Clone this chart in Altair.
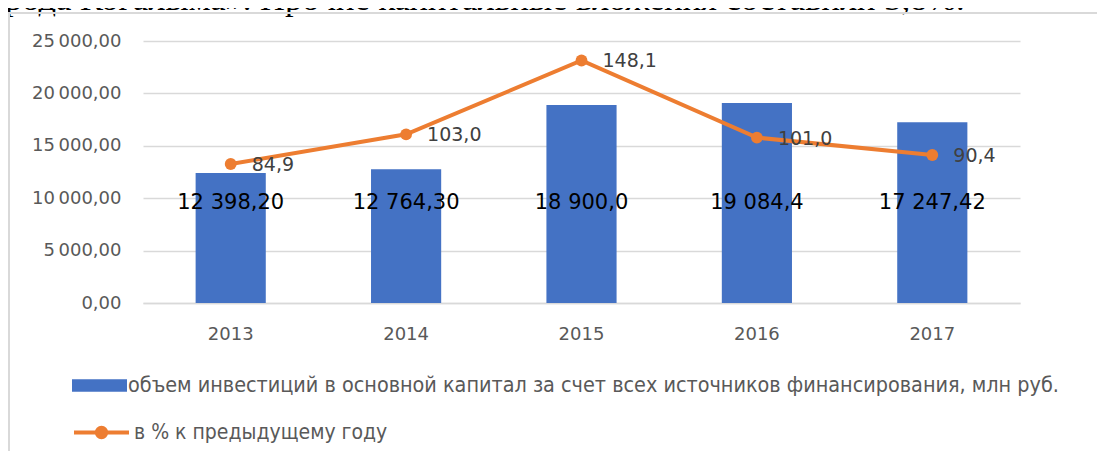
import altair as alt
import pandas as pd

years = ["2013", "2014", "2015", "2016", "2017"]
investment = [12398.20, 12764.30, 18900.0, 19084.4, 17247.42]
investment_labels = ["12 398,20", "12 764,30", "18 900,0", "19 084,4", "17 247,42"]
pct_prev = [84.9, 103.0, 148.1, 101.0, 90.4]
bar_series_name = "объем инвестиций  в основной капитал за счет всех источников финансирования, млн руб."
line_series_name = "в % к предыдущему году"
left_ticks = [0, 5000, 10000, 15000, 20000, 25000]
right_ticks = [0, 20, 40, 60, 80, 100, 120, 140, 160]
header_text = "рода Когалыма». Прочие капитальные вложения составили 3,8%."

df = pd.DataFrame({
    "year": years,
    "investment": investment,
    "inv_label": investment_labels,
    "pct": pct_prev,
    "bar_series": [bar_series_name] * len(years),
    "line_series": [line_series_name] * len(years),
})

AX_FONT = "DejaVu Sans"
GRAY = "#595959"
GRID = "#d9d9d9"
BLUE = "#4472c4"
ORANGE = "#ed7d31"

x_enc = alt.X(
    "year:N", sort=years,
    scale=alt.Scale(paddingInner=0.6, paddingOuter=0.3),
    axis=alt.Axis(title=None, labelAngle=0, labelFont=AX_FONT, labelFontSize=18,
                  labelColor=GRAY, ticks=False, tickSize=0, labelPadding=22,
                  domainColor=GRID, domainWidth=1.5, grid=False),
)

base = alt.Chart(df).encode(x=x_enc)

bar_symbol = "M-1,-0.23H1V0.23H-1Z"
line_symbol = ("M-1,0H1"
               "M-0.17,0A0.17,0.17,0,1,0,0.17,0A0.17,0.17,0,1,0,-0.17,0Z"
               "M-0.1,0A0.1,0.1,0,1,0,0.1,0A0.1,0.1,0,1,0,-0.1,0Z"
               "M-0.03,0A0.03,0.03,0,1,0,0.03,0A0.03,0.03,0,1,0,-0.03,0Z")

LEG_FONT = "DejaVu Sans Condensed"

bars = base.mark_bar().encode(
    y=alt.Y("investment:Q",
            scale=alt.Scale(domain=[0, 25000], nice=False),
            axis=alt.Axis(title=None, values=left_ticks, format=",.2f",
                          labelFont=AX_FONT, labelFontSize=18, labelColor=GRAY,
                          ticks=False, tickSize=0, domain=False, labelPadding=22,
                          grid=True, gridColor=GRID, gridWidth=1.5)),
    fill=alt.Fill("bar_series:N", scale=alt.Scale(range=[BLUE]),
                  legend=alt.Legend(orient="none", legendX=-71, legendY=317, title=None,
                                    symbolType=bar_symbol, symbolSize=3025,
                                    symbolStrokeWidth=0, labelFont=LEG_FONT,
                                    labelFontSize=21.4, labelColor=GRAY, labelLimit=0,
                                    labelOffset=1, padding=0)),
)

bar_text = base.mark_text(font=AX_FONT, fontSize=21, color="#000000", baseline="middle").encode(
    y=alt.YDatum(9500, type="quantitative"),
    text="inv_label:N",
)

left = alt.layer(bars, bar_text)

line = base.mark_line(strokeWidth=4).encode(
    y=alt.Y("pct:Q",
            scale=alt.Scale(domain=[0, 160], nice=False),
            axis=alt.Axis(title=None, orient="right", values=right_ticks, format=".1f",
                          labelFont=AX_FONT, labelFontSize=18, labelColor=GRAY,
                          ticks=False, tickSize=0, domain=False, labelPadding=19,
                          grid=False)),
    stroke=alt.Stroke("line_series:N", scale=alt.Scale(range=[ORANGE]),
                      legend=alt.Legend(orient="none", legendX=-71, legendY=362, title=None,
                                        symbolType=line_symbol, symbolSize=3025,
                                        symbolStrokeWidth=4, symbolFillColor=ORANGE,
                                        labelFont=LEG_FONT,
                                        labelFontSize=21, labelColor=GRAY, labelLimit=0,
                                        labelOffset=3, padding=0)),
)

points = base.mark_circle(size=140, color=ORANGE, opacity=1).encode(
    y=alt.Y("pct:Q", axis=None),
)

line_text = base.mark_text(font=AX_FONT, fontSize=19, color="#404040", align="left",
                           baseline="middle", dx=21, dy=1).encode(
    y=alt.Y("pct:Q", axis=None),
    text=alt.Text("pct:Q", format=".1f"),
)

right = alt.layer(line, points, line_text)

header = alt.Chart(pd.DataFrame({"t": [header_text]})).mark_text(
    font="Liberation Serif", fontSize=34.5, color="#000000", align="left", baseline="alphabetic"
).encode(text="t:N", x=alt.value(-138), y=alt.value(-31))

frame_top = alt.Chart(pd.DataFrame({"a": [0]})).mark_rule(color=GRID, strokeWidth=2).encode(
    x=alt.value(-135), x2=alt.value(980), y=alt.value(-28))
frame_left = alt.Chart(pd.DataFrame({"a": [0]})).mark_rule(color=GRID, strokeWidth=2).encode(
    x=alt.value(-134), y=alt.value(-28), y2=alt.value(430))

chart = alt.layer(left, right, header, frame_top, frame_left).resolve_scale(
    y="independent"
).properties(
    width=877, height=262,
    padding={"left": 135, "top": 33, "right": 77, "bottom": 148},
    autosize=alt.AutoSizeParams(type="none"),
).configure(
    locale={"number": {"decimal": ",", "thousands": "\u2009", "grouping": [3],
                       "currency": ["", ""]}}
).configure_view(stroke=None)

chart.save("out.html", embed_options={"renderer": "svg", "actions": False})
